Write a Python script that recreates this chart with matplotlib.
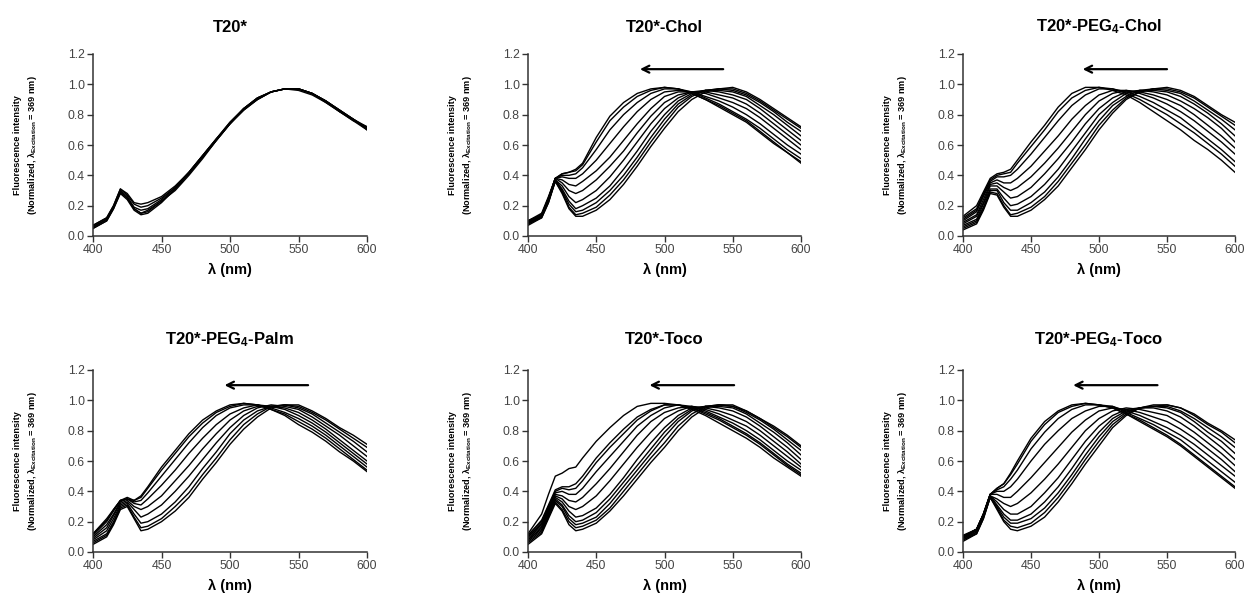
import matplotlib
matplotlib.use("Agg")
import matplotlib.pyplot as plt

plt.rcParams['font.family'] = ['Liberation Sans', 'DejaVu Sans']
plt.rcParams['mathtext.fontset'] = 'custom'
plt.rcParams['mathtext.rm'] = 'Liberation Sans:bold'
plt.rcParams['mathtext.bf'] = 'Liberation Sans:bold'
plt.rcParams['mathtext.it'] = 'Liberation Sans:bold'
plt.rcParams['mathtext.default'] = 'regular'

# ---------------- data ----------------
WAVELENGTH = [400, 410, 415, 420, 425, 430, 435, 440, 450, 460, 470, 480,
              490, 500, 510, 520, 530, 540, 550, 560, 570, 580, 590, 600]

TITLES = ["T20*", "T20*-Chol", "T20*-PEG$_4$-Chol",
          "T20*-PEG$_4$-Palm", "T20*-Toco", "T20*-PEG$_4$-Toco"]

T20 = [
    [0.05,0.10,0.18,0.28,0.24,0.17,0.14,0.15,0.22,0.31,0.41,0.52,0.63,0.74,0.83,0.90,0.95,0.97,0.97,0.94,0.89,0.83,0.77,0.71],
    [0.06,0.11,0.19,0.29,0.25,0.18,0.15,0.16,0.23,0.31,0.41,0.52,0.63,0.74,0.84,0.90,0.95,0.97,0.97,0.94,0.89,0.83,0.77,0.71],
    [0.06,0.11,0.19,0.30,0.26,0.19,0.17,0.18,0.24,0.32,0.42,0.53,0.64,0.74,0.84,0.91,0.95,0.97,0.97,0.94,0.89,0.83,0.77,0.70],
    [0.07,0.12,0.20,0.31,0.27,0.21,0.19,0.20,0.25,0.32,0.42,0.53,0.64,0.75,0.84,0.91,0.95,0.97,0.97,0.94,0.89,0.82,0.77,0.72],
    [0.07,0.12,0.20,0.31,0.28,0.22,0.21,0.22,0.26,0.33,0.42,0.53,0.64,0.75,0.84,0.91,0.95,0.97,0.97,0.94,0.88,0.82,0.76,0.72],
    [0.05,0.10,0.18,0.29,0.25,0.18,0.15,0.17,0.23,0.30,0.40,0.51,0.63,0.74,0.83,0.90,0.95,0.97,0.96,0.93,0.88,0.82,0.76,0.70],
]

CHOL = [
    [0.08,0.12,0.22,0.36,0.28,0.18,0.13,0.13,0.17,0.24,0.34,0.46,0.59,0.71,0.82,0.90,0.95,0.97,0.98,0.95,0.90,0.84,0.78,0.72],
    [0.09,0.13,0.23,0.36,0.29,0.19,0.14,0.15,0.19,0.27,0.37,0.49,0.62,0.74,0.85,0.92,0.96,0.97,0.97,0.94,0.89,0.83,0.77,0.71],
    [0.07,0.12,0.22,0.37,0.30,0.21,0.16,0.17,0.22,0.30,0.40,0.52,0.65,0.77,0.87,0.93,0.96,0.97,0.96,0.93,0.88,0.82,0.75,0.69],
    [0.10,0.14,0.23,0.37,0.31,0.23,0.18,0.20,0.25,0.33,0.44,0.56,0.69,0.80,0.89,0.94,0.96,0.96,0.95,0.92,0.86,0.80,0.73,0.66],
    [0.08,0.13,0.24,0.37,0.33,0.26,0.22,0.24,0.30,0.39,0.50,0.62,0.74,0.84,0.91,0.95,0.96,0.95,0.93,0.90,0.84,0.77,0.70,0.63],
    [0.09,0.14,0.24,0.38,0.35,0.30,0.28,0.30,0.37,0.46,0.56,0.68,0.79,0.88,0.93,0.95,0.95,0.93,0.91,0.87,0.81,0.74,0.67,0.60],
    [0.10,0.14,0.25,0.38,0.37,0.34,0.33,0.36,0.43,0.52,0.63,0.74,0.84,0.92,0.95,0.95,0.94,0.91,0.88,0.84,0.78,0.71,0.64,0.57],
    [0.08,0.13,0.24,0.38,0.39,0.38,0.38,0.41,0.50,0.61,0.72,0.82,0.90,0.95,0.96,0.95,0.92,0.89,0.85,0.80,0.74,0.67,0.60,0.54],
    [0.09,0.14,0.25,0.38,0.40,0.40,0.41,0.45,0.57,0.70,0.80,0.88,0.94,0.97,0.97,0.95,0.91,0.87,0.82,0.77,0.71,0.64,0.57,0.51],
    [0.10,0.15,0.26,0.38,0.41,0.42,0.43,0.47,0.62,0.76,0.85,0.92,0.96,0.98,0.97,0.94,0.90,0.86,0.81,0.76,0.69,0.62,0.55,0.49],
    [0.08,0.14,0.25,0.38,0.41,0.42,0.44,0.48,0.65,0.79,0.88,0.94,0.97,0.98,0.97,0.94,0.90,0.85,0.80,0.75,0.68,0.61,0.55,0.48],
]

PEG_CHOL = [
    [0.04,0.08,0.17,0.28,0.27,0.19,0.13,0.13,0.17,0.24,0.33,0.45,0.57,0.70,0.81,0.90,0.95,0.97,0.98,0.96,0.92,0.86,0.80,0.75],
    [0.05,0.09,0.18,0.29,0.28,0.20,0.14,0.15,0.19,0.26,0.36,0.48,0.60,0.73,0.83,0.91,0.95,0.97,0.97,0.95,0.91,0.85,0.79,0.73],
    [0.06,0.10,0.19,0.30,0.30,0.22,0.17,0.17,0.22,0.29,0.39,0.51,0.64,0.76,0.86,0.92,0.96,0.97,0.96,0.94,0.89,0.83,0.77,0.70],
    [0.07,0.11,0.21,0.31,0.31,0.25,0.20,0.21,0.26,0.34,0.44,0.56,0.68,0.80,0.88,0.94,0.96,0.96,0.95,0.92,0.87,0.81,0.74,0.66],
    [0.08,0.13,0.22,0.33,0.33,0.29,0.25,0.26,0.32,0.41,0.51,0.62,0.74,0.84,0.91,0.95,0.96,0.95,0.93,0.89,0.84,0.78,0.71,0.62],
    [0.09,0.14,0.24,0.34,0.35,0.32,0.30,0.32,0.39,0.48,0.58,0.69,0.80,0.89,0.94,0.96,0.95,0.93,0.90,0.86,0.80,0.73,0.66,0.58],
    [0.10,0.16,0.26,0.35,0.37,0.35,0.35,0.38,0.46,0.56,0.66,0.77,0.86,0.93,0.96,0.96,0.94,0.91,0.87,0.82,0.76,0.69,0.62,0.54],
    [0.11,0.17,0.27,0.36,0.39,0.39,0.40,0.44,0.54,0.65,0.76,0.86,0.93,0.97,0.97,0.95,0.92,0.88,0.83,0.78,0.71,0.64,0.57,0.49],
    [0.12,0.18,0.28,0.37,0.40,0.41,0.42,0.48,0.59,0.70,0.82,0.91,0.96,0.98,0.97,0.94,0.90,0.85,0.80,0.74,0.68,0.61,0.54,0.46],
    [0.13,0.20,0.29,0.38,0.41,0.42,0.44,0.50,0.62,0.73,0.85,0.94,0.98,0.98,0.96,0.93,0.88,0.82,0.76,0.70,0.63,0.57,0.50,0.42],
]

PEG_PALM = [
    [0.05,0.10,0.18,0.28,0.30,0.22,0.14,0.15,0.20,0.27,0.36,0.48,0.59,0.71,0.81,0.89,0.95,0.97,0.97,0.93,0.88,0.82,0.77,0.71],
    [0.06,0.11,0.19,0.29,0.31,0.23,0.16,0.17,0.22,0.30,0.39,0.51,0.62,0.74,0.84,0.91,0.96,0.97,0.96,0.92,0.87,0.81,0.75,0.69],
    [0.07,0.12,0.20,0.30,0.32,0.25,0.19,0.20,0.25,0.33,0.43,0.55,0.66,0.78,0.87,0.93,0.96,0.97,0.95,0.91,0.85,0.79,0.73,0.66],
    [0.08,0.14,0.22,0.31,0.33,0.28,0.23,0.25,0.31,0.40,0.50,0.61,0.72,0.82,0.90,0.95,0.97,0.96,0.94,0.89,0.83,0.77,0.70,0.63],
    [0.09,0.16,0.24,0.32,0.34,0.30,0.28,0.30,0.37,0.47,0.57,0.68,0.78,0.87,0.93,0.96,0.96,0.95,0.92,0.87,0.81,0.74,0.67,0.60],
    [0.10,0.18,0.25,0.33,0.35,0.32,0.31,0.35,0.44,0.54,0.65,0.75,0.84,0.91,0.95,0.97,0.96,0.94,0.90,0.85,0.79,0.72,0.65,0.58],
    [0.11,0.20,0.27,0.34,0.35,0.33,0.34,0.39,0.50,0.61,0.72,0.82,0.90,0.95,0.97,0.97,0.95,0.92,0.88,0.83,0.77,0.70,0.63,0.56],
    [0.12,0.21,0.28,0.34,0.36,0.34,0.36,0.42,0.54,0.65,0.76,0.85,0.92,0.96,0.98,0.97,0.94,0.91,0.86,0.81,0.75,0.68,0.61,0.54],
    [0.12,0.22,0.28,0.34,0.35,0.34,0.37,0.43,0.56,0.67,0.78,0.87,0.93,0.97,0.98,0.97,0.94,0.90,0.84,0.79,0.73,0.66,0.60,0.53],
]

TOCO = [
    [0.05,0.12,0.22,0.32,0.27,0.18,0.14,0.15,0.19,0.27,0.37,0.48,0.59,0.69,0.80,0.89,0.95,0.97,0.97,0.93,0.88,0.83,0.77,0.70],
    [0.06,0.13,0.23,0.33,0.28,0.20,0.16,0.17,0.21,0.29,0.40,0.51,0.62,0.72,0.83,0.91,0.96,0.97,0.96,0.93,0.88,0.82,0.76,0.69],
    [0.07,0.14,0.24,0.34,0.30,0.22,0.18,0.19,0.23,0.32,0.43,0.54,0.65,0.76,0.86,0.93,0.96,0.97,0.96,0.92,0.87,0.81,0.74,0.67],
    [0.08,0.15,0.25,0.35,0.31,0.24,0.20,0.21,0.26,0.35,0.46,0.57,0.68,0.79,0.88,0.94,0.96,0.96,0.95,0.91,0.85,0.79,0.72,0.64],
    [0.08,0.16,0.26,0.36,0.33,0.27,0.23,0.24,0.29,0.38,0.49,0.61,0.72,0.82,0.90,0.95,0.96,0.95,0.93,0.89,0.83,0.76,0.69,0.61],
    [0.09,0.17,0.27,0.37,0.35,0.30,0.28,0.30,0.37,0.47,0.58,0.69,0.79,0.88,0.93,0.96,0.95,0.93,0.90,0.86,0.80,0.73,0.66,0.58],
    [0.10,0.18,0.28,0.38,0.37,0.34,0.33,0.36,0.45,0.55,0.66,0.77,0.86,0.92,0.95,0.96,0.94,0.91,0.87,0.83,0.77,0.70,0.63,0.56],
    [0.10,0.19,0.29,0.39,0.40,0.38,0.38,0.42,0.53,0.63,0.73,0.83,0.90,0.95,0.97,0.96,0.93,0.89,0.85,0.80,0.74,0.67,0.60,0.54],
    [0.11,0.20,0.30,0.40,0.42,0.41,0.42,0.47,0.59,0.69,0.78,0.87,0.93,0.97,0.97,0.95,0.92,0.88,0.83,0.78,0.72,0.65,0.58,0.52],
    [0.11,0.21,0.31,0.41,0.43,0.43,0.45,0.50,0.62,0.72,0.81,0.89,0.94,0.97,0.97,0.95,0.91,0.87,0.82,0.77,0.71,0.64,0.57,0.51],
    [0.12,0.25,0.38,0.50,0.52,0.55,0.56,0.62,0.73,0.82,0.90,0.96,0.98,0.98,0.97,0.94,0.90,0.85,0.80,0.75,0.69,0.62,0.56,0.50],
]

PEG_TOCO = [
    [0.08,0.12,0.22,0.36,0.28,0.20,0.15,0.14,0.17,0.23,0.33,0.45,0.58,0.70,0.82,0.90,0.95,0.97,0.97,0.95,0.91,0.85,0.80,0.74],
    [0.07,0.12,0.22,0.36,0.29,0.21,0.17,0.16,0.19,0.26,0.36,0.48,0.61,0.73,0.84,0.91,0.95,0.96,0.97,0.95,0.90,0.84,0.79,0.72],
    [0.08,0.13,0.23,0.36,0.30,0.23,0.19,0.19,0.22,0.29,0.39,0.51,0.64,0.76,0.86,0.92,0.95,0.96,0.96,0.93,0.88,0.82,0.76,0.69],
    [0.09,0.13,0.23,0.37,0.31,0.25,0.21,0.21,0.25,0.33,0.43,0.55,0.68,0.79,0.88,0.93,0.95,0.96,0.95,0.92,0.86,0.79,0.73,0.65],
    [0.09,0.14,0.24,0.37,0.33,0.28,0.25,0.25,0.30,0.39,0.49,0.61,0.73,0.83,0.90,0.94,0.95,0.95,0.93,0.89,0.83,0.76,0.69,0.61],
    [0.10,0.14,0.24,0.37,0.35,0.32,0.30,0.32,0.39,0.48,0.58,0.69,0.80,0.88,0.93,0.95,0.94,0.92,0.90,0.85,0.79,0.72,0.65,0.57],
    [0.10,0.15,0.25,0.38,0.38,0.36,0.36,0.40,0.49,0.59,0.69,0.79,0.87,0.93,0.95,0.94,0.92,0.89,0.86,0.81,0.75,0.68,0.61,0.53],
    [0.10,0.15,0.25,0.38,0.40,0.40,0.43,0.48,0.60,0.71,0.80,0.88,0.93,0.96,0.96,0.93,0.90,0.86,0.82,0.77,0.71,0.64,0.57,0.50],
    [0.11,0.15,0.25,0.38,0.41,0.43,0.48,0.54,0.68,0.79,0.88,0.94,0.97,0.97,0.96,0.92,0.88,0.84,0.79,0.74,0.67,0.60,0.53,0.46],
    [0.10,0.15,0.25,0.38,0.42,0.45,0.51,0.58,0.73,0.84,0.92,0.96,0.98,0.97,0.95,0.91,0.87,0.82,0.77,0.71,0.64,0.57,0.50,0.43],
    [0.10,0.15,0.25,0.38,0.42,0.45,0.52,0.60,0.75,0.86,0.93,0.97,0.98,0.97,0.95,0.91,0.86,0.81,0.76,0.70,0.63,0.56,0.49,0.42],
]

PANELS = [T20, CHOL, PEG_CHOL, PEG_PALM, TOCO, PEG_TOCO]

# arrow start / end wavelengths (None = no arrow), arrow level
ARROW_START = [None, 543, 550, 557, 551, 543]
ARROW_END = [None, 482, 488, 496, 489, 481]
ARROW_LEVEL = 1.1

X_TICKS = [400, 450, 500, 550, 600]
Y_TICKS = [0.0, 0.2, 0.4, 0.6, 0.8, 1.0, 1.2]

# ---------------- layout ----------------
W, H = 1245, 594
fig = plt.figure(figsize=(W / 100, H / 100), dpi=100)

col_left = [93, 528, 963]
col_width = [274, 273, 272]
row_top = [54, 370]
ax_h = 182

for i, curves in enumerate(PANELS):
    r, c = divmod(i, 3)
    left = col_left[c] / W
    bottom = 1 - (row_top[r] + ax_h) / H
    ax = fig.add_axes([left, bottom, col_width[c] / W, ax_h / H])

    for y in curves:
        ax.plot(WAVELENGTH, y, color='black', lw=1.0)

    ax.set_xlim(400, 600)
    ax.set_ylim(0, 1.2)
    ax.set_xticks(X_TICKS)
    ax.set_yticks(Y_TICKS)
    ax.set_yticklabels([f"{v:.1f}" for v in Y_TICKS])
    for s in ['top', 'right']:
        ax.spines[s].set_visible(False)
    for s in ['left', 'bottom']:
        ax.spines[s].set_linewidth(1.1)
        ax.spines[s].set_color('#333333')
    ax.tick_params(direction='out', length=4, width=1.0, colors='#333333',
                   labelsize=8.8, labelcolor='#444444', pad=2)

    title_y = 1.0 + (27 if r == 0 else 30) / ax_h
    ax.text(0.5, title_y, TITLES[i], transform=ax.transAxes, ha='center',
            va='center', fontsize=12, fontweight='bold')

    ax.text(0.5, -34 / ax_h, "λ (nm)", transform=ax.transAxes, ha='center',
            va='center', fontsize=10.5, fontweight='bold')

    ax.text(-67 / col_width[c], 0.5,
            "Fluorescence intensity\n(Normalized, λ$_{Excitation}$ = 369 nm)",
            transform=ax.transAxes, rotation=90, ha='center', va='center',
            fontsize=6.6, fontweight='bold', multialignment='center',
            linespacing=1.55)

    if ARROW_START[i] is not None:
        ax.annotate('', xy=(ARROW_END[i], ARROW_LEVEL),
                    xytext=(ARROW_START[i], ARROW_LEVEL),
                    arrowprops=dict(arrowstyle='->,head_length=0.5,head_width=0.25',
                                    lw=1.6, color='black',
                                    shrinkA=0, shrinkB=0))

fig.savefig('out.png', dpi=100)
